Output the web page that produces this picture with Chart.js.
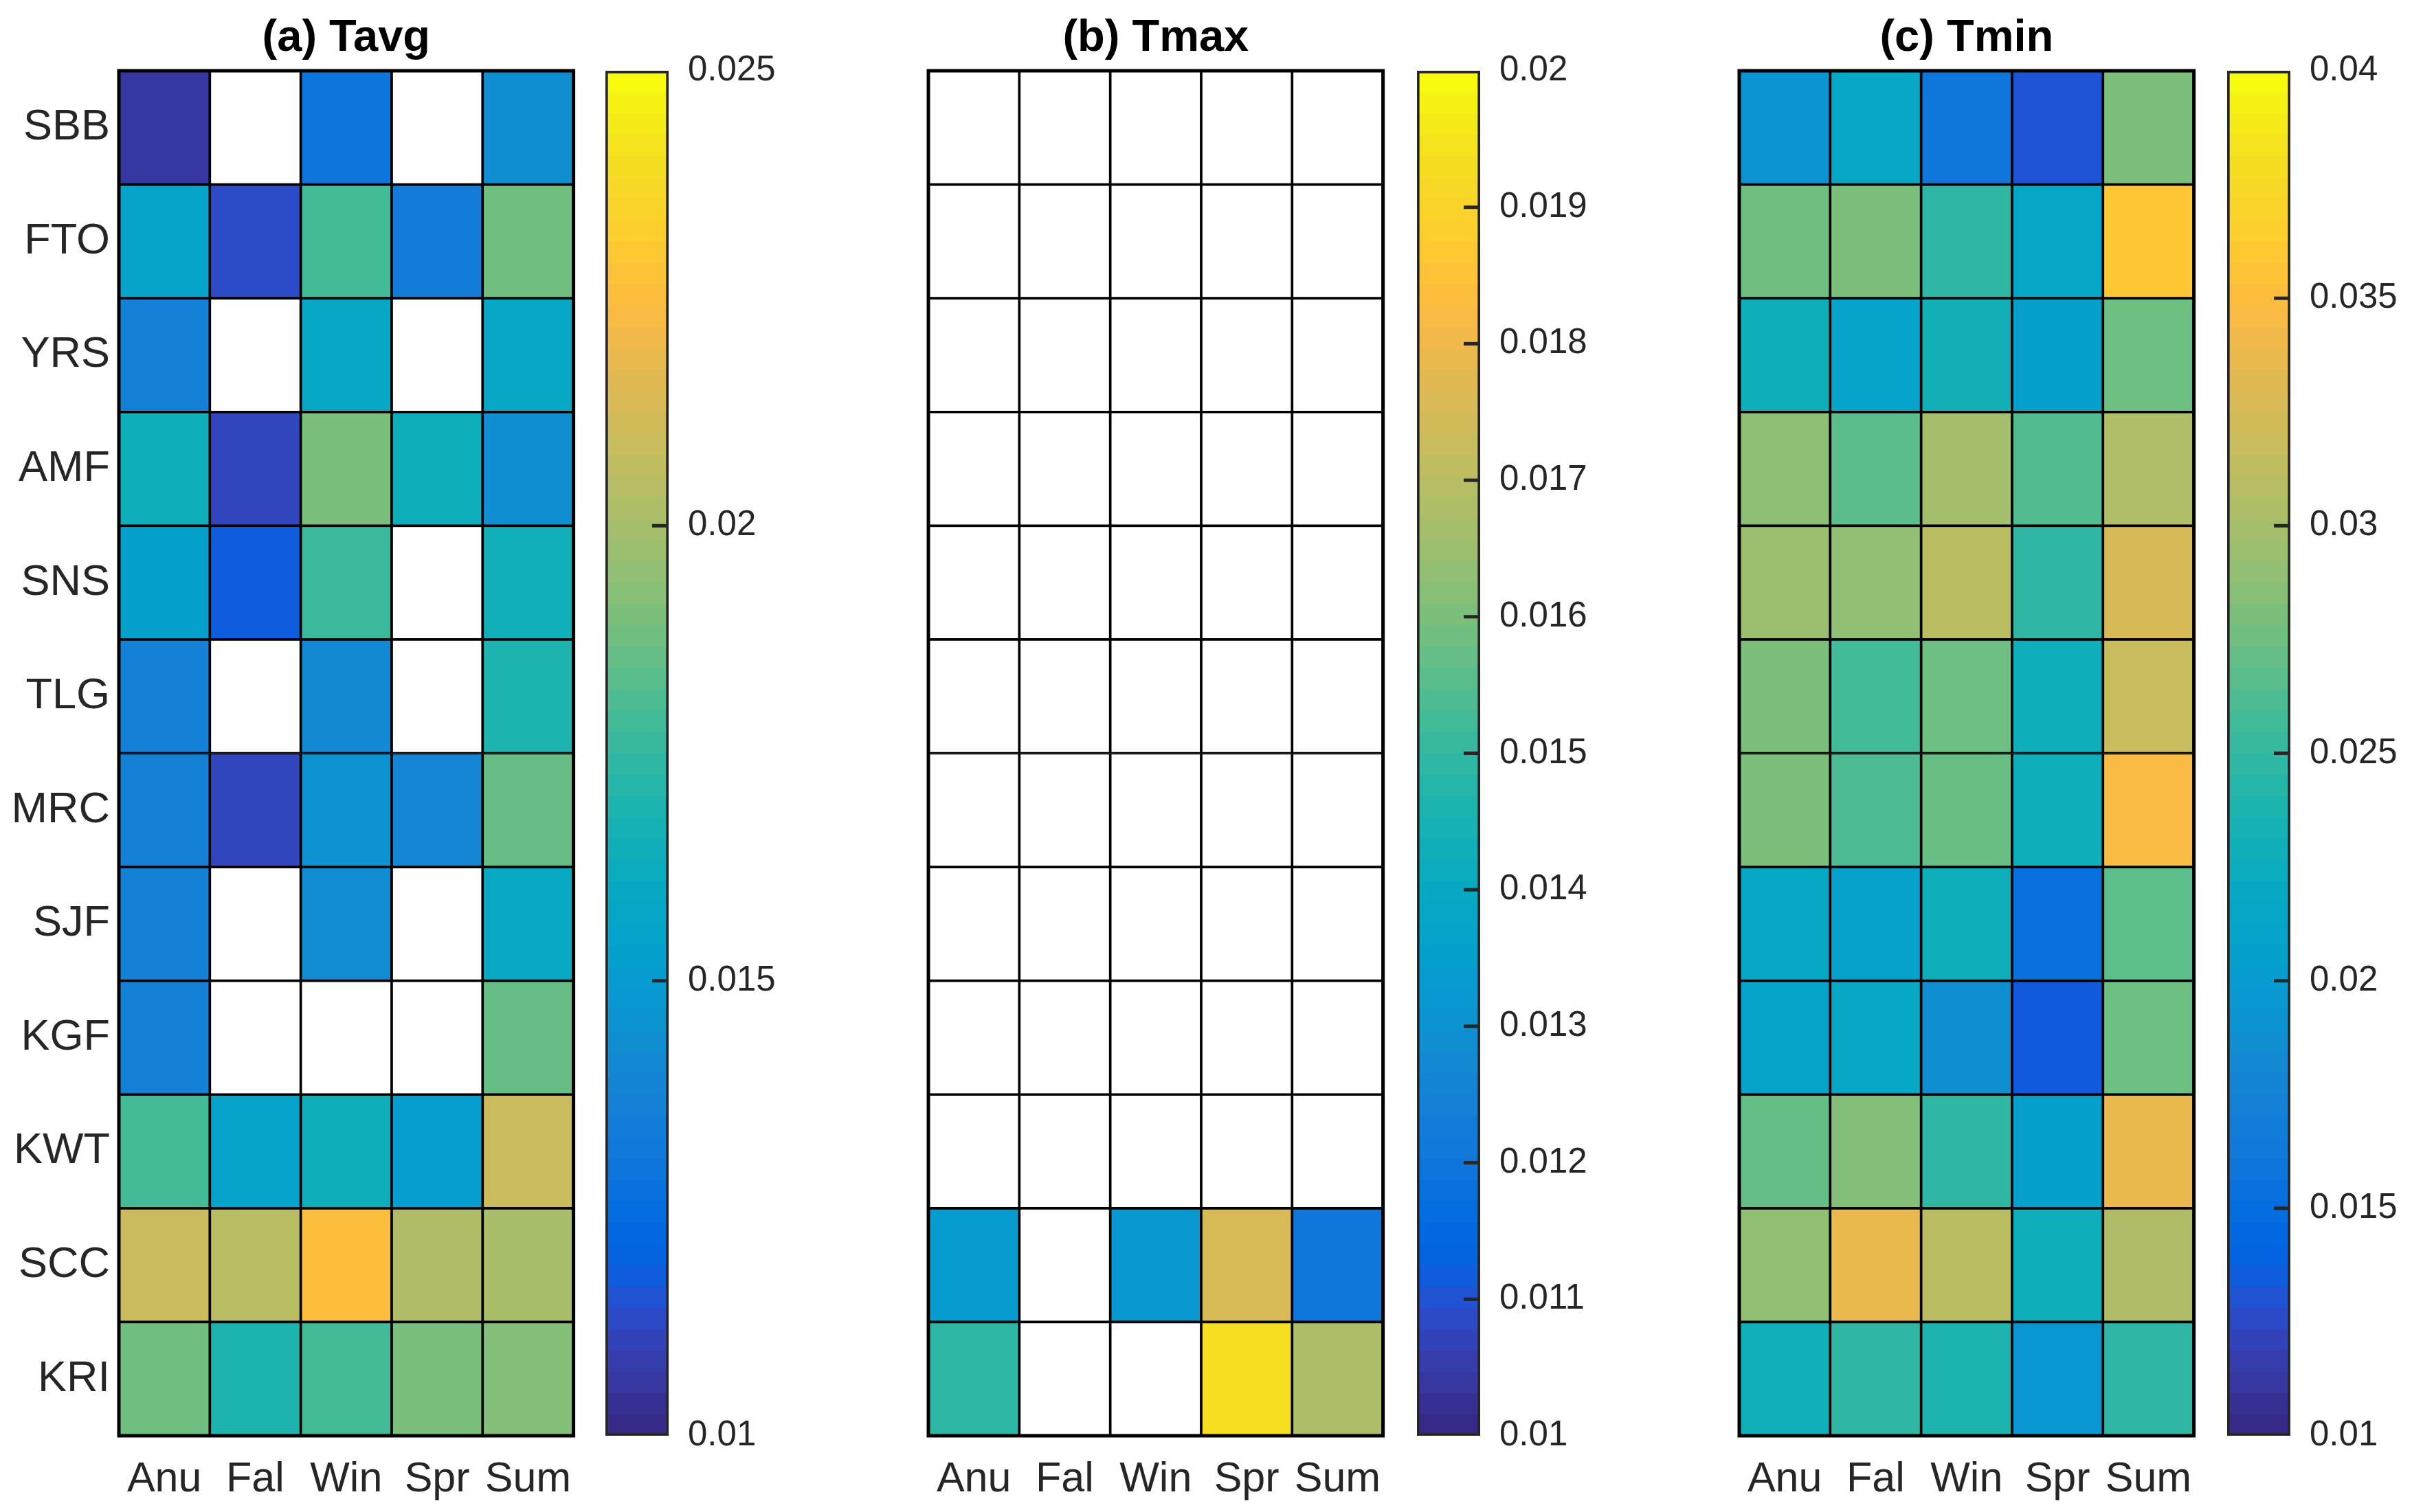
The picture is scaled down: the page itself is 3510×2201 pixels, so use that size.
<!DOCTYPE html>
<html>
<head>
<meta charset="utf-8">
<script src="https://cdn.jsdelivr.net/npm/chart.js@4.4.1/dist/chart.umd.min.js"></script>
<style>
  html, body { margin: 0; padding: 0; background: #fff; }
  #wrap { position: relative; width: 3510px; height: 2201px; overflow: hidden; background: #fff; }
  #wrap canvas { position: absolute; top: 0; }
</style>
</head>
<body>
<div id="wrap"></div>
<script>
const stations = ['SBB', 'FTO', 'YRS', 'AMF', 'SNS', 'TLG', 'MRC', 'SJF', 'KGF', 'KWT', 'SCC', 'KRI'];
const seasons = ['Anu', 'Fal', 'Win', 'Spr', 'Sum'];

// (a) Tavg, one array per season column, rows follow stations
const tavgAnu = [0.0105, 0.0154, 0.0136, 0.0164, 0.0152, 0.0136, 0.0136, 0.0136, 0.0136, 0.0179, 0.0210, 0.0188];
const tavgFal = [null, 0.0112, null, 0.0110, 0.0117, null, 0.0110, null, null, 0.0154, 0.0205, 0.0169];
const tavgWin = [0.0129, 0.0179, 0.0158, 0.0190, 0.0177, 0.0140, 0.0145, 0.0142, null, 0.0164, 0.0226, 0.0179];
const tavgSpr = [null, 0.0133, null, 0.0164, null, null, 0.0139, null, null, 0.0151, 0.0203, 0.0190];
const tavgSum = [0.0143, 0.0188, 0.0158, 0.0143, 0.0165, 0.0169, 0.0186, 0.0159, 0.0186, 0.0210, 0.0201, 0.0192];

// (b) Tmax
const tmaxAnu = [null, null, null, null, null, null, null, null, null, null, 0.0133, 0.0149];
const tmaxFal = [null, null, null, null, null, null, null, null, null, null, null, null];
const tmaxWin = [null, null, null, null, null, null, null, null, null, null, 0.0132, null];
const tmaxSpr = [null, null, null, null, null, null, null, null, null, null, 0.0176, 0.0194];
const tmaxSum = [null, null, null, null, null, null, null, null, null, null, 0.0120, 0.0168];

// (c) Tmin
const tminAnu = [0.0191, 0.0276, 0.0228, 0.0289, 0.0295, 0.0281, 0.0281, 0.0216, 0.0208, 0.0271, 0.0290, 0.0229];
const tminFal = [0.0216, 0.0281, 0.0208, 0.0267, 0.0290, 0.0257, 0.0262, 0.0207, 0.0216, 0.0284, 0.0338, 0.0248];
const tminWin = [0.0160, 0.0248, 0.0231, 0.0300, 0.0311, 0.0275, 0.0273, 0.0228, 0.0186, 0.0248, 0.0311, 0.0238];
const tminSpr = [0.0129, 0.0214, 0.0205, 0.0263, 0.0248, 0.0228, 0.0228, 0.0152, 0.0133, 0.0204, 0.0228, 0.0194];
const tminSum = [0.0281, 0.0361, 0.0275, 0.0305, 0.0327, 0.0319, 0.0348, 0.0268, 0.0275, 0.0338, 0.0306, 0.0248];

// colour limits and colorbar ticks
const tavgRange = [0.01, 0.025];
const tmaxRange = [0.01, 0.02];
const tminRange = [0.01, 0.04];
const tavgTicks = [0.01, 0.015, 0.02, 0.025];
const tavgTickLabels = ['0.01', '0.015', '0.02', '0.025'];
const tmaxTicks = [0.01, 0.011, 0.012, 0.013, 0.014, 0.015, 0.016, 0.017, 0.018, 0.019, 0.02];
const tmaxTickLabels = ['0.01', '0.011', '0.012', '0.013', '0.014', '0.015', '0.016', '0.017', '0.018', '0.019', '0.02'];
const tminTicks = [0.01, 0.015, 0.02, 0.025, 0.03, 0.035, 0.04];
const tminTickLabels = ['0.01', '0.015', '0.02', '0.025', '0.03', '0.035', '0.04'];

// MATLAB parula, 64 entries
const PARULA = [
  [0.2081,0.1663,0.5292],[0.2116,0.1898,0.5777],[0.2123,0.2138,0.6270],[0.2081,0.2386,0.6771],
  [0.1959,0.2645,0.7279],[0.1707,0.2919,0.7792],[0.1253,0.3242,0.8303],[0.0591,0.3598,0.8683],
  [0.0117,0.3875,0.8820],[0.0060,0.4086,0.8828],[0.0165,0.4266,0.8786],[0.0329,0.4430,0.8720],
  [0.0498,0.4586,0.8641],[0.0629,0.4737,0.8554],[0.0723,0.4887,0.8467],[0.0779,0.5040,0.8384],
  [0.0793,0.5200,0.8312],[0.0749,0.5375,0.8263],[0.0641,0.5570,0.8240],[0.0488,0.5772,0.8228],
  [0.0343,0.5966,0.8199],[0.0265,0.6137,0.8135],[0.0239,0.6287,0.8038],[0.0231,0.6418,0.7913],
  [0.0228,0.6535,0.7768],[0.0267,0.6642,0.7607],[0.0384,0.6743,0.7436],[0.0590,0.6838,0.7254],
  [0.0843,0.6928,0.7062],[0.1133,0.7015,0.6859],[0.1453,0.7098,0.6646],[0.1801,0.7177,0.6424],
  [0.2178,0.7250,0.6193],[0.2586,0.7317,0.5954],[0.3022,0.7376,0.5712],[0.3482,0.7424,0.5473],
  [0.3953,0.7459,0.5244],[0.4420,0.7481,0.5033],[0.4871,0.7491,0.4840],[0.5300,0.7491,0.4661],
  [0.5709,0.7485,0.4494],[0.6099,0.7473,0.4337],[0.6473,0.7456,0.4188],[0.6834,0.7435,0.4044],
  [0.7184,0.7411,0.3905],[0.7525,0.7384,0.3768],[0.7858,0.7356,0.3633],[0.8185,0.7327,0.3498],
  [0.8507,0.7299,0.3360],[0.8824,0.7274,0.3217],[0.9139,0.7258,0.3063],[0.9450,0.7261,0.2886],
  [0.9739,0.7314,0.2666],[0.9938,0.7455,0.2403],[0.9990,0.7653,0.2164],[0.9955,0.7861,0.1967],
  [0.9880,0.8066,0.1794],[0.9789,0.8271,0.1633],[0.9697,0.8481,0.1475],[0.9626,0.8705,0.1309],
  [0.9589,0.8949,0.1132],[0.9598,0.9218,0.0948],[0.9661,0.9514,0.0755],[0.9763,0.9831,0.0538]
];

function parula(f) {
  const t = Math.max(0, Math.min(1, f)) * 63;
  const i = Math.min(62, Math.floor(t));
  const w = t - i;
  const a = PARULA[i], b = PARULA[i + 1];
  const c = [0, 1, 2].map(k => Math.round(255 * (a[k] + (b[k] - a[k]) * w)));
  return 'rgb(' + c.join(',') + ')';
}

const FONT = '"Liberation Sans", Arial, Helvetica, sans-serif';
const TXT = '#262626';
const H = 2201;
const TOP = 103;
const BOTTOM = 2090;
const YAXIS_W = 173;
const MAP_W = 670;

const frame = {
  id: 'frame',
  afterDatasetsDraw(chart) {
    const a = chart.chartArea;
    const ctx = chart.ctx;
    ctx.save();
    ctx.strokeStyle = '#000';
    ctx.lineWidth = 5;
    ctx.strokeRect(a.left, a.top, a.right - a.left, a.bottom - a.top);
    ctx.restore();
  },
};

const cbTicks = {
  id: 'cbTicks',
  afterDatasetsDraw(chart) {
    const a = chart.chartArea;
    const y = chart.scales.y;
    const ctx = chart.ctx;
    ctx.save();
    ctx.strokeStyle = TXT;
    ctx.lineWidth = 5;
    y.ticks.forEach(t => {
      if (t.value <= y.min || t.value >= y.max) return;
      const py = y.getPixelForValue(t.value);
      ctx.beginPath();
      ctx.moveTo(a.right - 24, py);
      ctx.lineTo(a.right - 2, py);
      ctx.stroke();
    });
    ctx.restore();
  },
};

function addCanvas(left, width) {
  const c = document.createElement('canvas');
  c.width = width;
  c.height = H;
  c.style.left = left + 'px';
  c.style.width = width + 'px';
  c.style.height = H + 'px';
  document.getElementById('wrap').appendChild(c);
  return c;
}

function heatmap(left, title, columns, range, showRows) {
  const canvas = addCanvas(left - YAXIS_W, YAXIS_W + MAP_W + 10);
  new Chart(canvas, {
    type: 'bar',
    data: {
      labels: stations,
      datasets: seasons.map((s, j) => ({
        label: s,
        data: stations.map(() => [j, j + 1]),
        backgroundColor: columns[j].map(v => v == null ? '#ffffff' : parula((v - range[0]) / (range[1] - range[0]))),
        borderColor: '#000',
        borderWidth: 2.2,
        borderSkipped: false,
        barPercentage: 1,
        categoryPercentage: 1,
        grouped: false,
      })),
    },
    options: {
      indexAxis: 'y',
      responsive: false,
      animation: false,
      devicePixelRatio: 1,
      layout: { padding: { left: 0, right: 10, top: 0, bottom: 0 } },
      plugins: {
        legend: { display: false },
        tooltip: { enabled: false },
        title: {
          display: true,
          text: title,
          fullSize: false,
          color: '#000',
          font: { family: FONT, size: 65, weight: 'bold', lineHeight: 1.2 },
          padding: { top: 17, bottom: 8 },
        },
      },
      scales: {
        x: {
          type: 'linear',
          min: 0,
          max: 5,
          grid: { display: false },
          border: { display: false },
          afterBuildTicks: axis => { axis.ticks = seasons.map((s, j) => ({ value: j + 0.5 })); },
          afterFit: axis => { axis.height = H - BOTTOM; },
          ticks: {
            callback: v => seasons[Math.floor(v)],
            color: TXT,
            font: { family: FONT, size: 61 },
            padding: 20,
            maxRotation: 0,
            autoSkip: false,
          },
        },
        y: {
          grid: { display: false },
          border: { display: false },
          afterFit: axis => { axis.width = YAXIS_W; },
          ticks: {
            display: showRows,
            color: TXT,
            font: { family: FONT, size: 63 },
            padding: 5,
            autoSkip: false,
          },
        },
      },
    },
    plugins: [frame],
  });
}

function colorbar(left, range, ticks, tickLabels) {
  const canvas = addCanvas(left, 92 + 250);
  new Chart(canvas, {
    type: 'bar',
    data: {
      labels: [''],
      datasets: [{
        data: [[range[0], range[1]]],
        backgroundColor: c => {
          const a = c.chart.chartArea;
          if (!a) return '#fff';
          const g = c.chart.ctx.createLinearGradient(0, a.bottom, 0, a.top);
          for (let k = 0; k < 64; k++) {
            const col = parula(k / 63);
            g.addColorStop(k / 64, col);
            g.addColorStop((k + 1) / 64, col);
          }
          return g;
        },
        borderColor: TXT,
        borderWidth: 4,
        borderSkipped: false,
        barPercentage: 1,
        categoryPercentage: 1,
      }],
    },
    options: {
      responsive: false,
      animation: false,
      devicePixelRatio: 1,
      layout: { padding: { left: 0, right: 0, top: TOP, bottom: H - BOTTOM } },
      plugins: { legend: { display: false }, tooltip: { enabled: false } },
      scales: {
        x: { display: false },
        y: {
          position: 'right',
          min: range[0],
          max: range[1],
          grid: { display: false },
          border: { display: false },
          afterBuildTicks: axis => { axis.ticks = ticks.map(v => ({ value: v })); },
          afterFit: axis => { axis.width = 250; },
          ticks: {
            callback: (v, i) => tickLabels[i],
            color: TXT,
            font: { family: FONT, size: 51 },
            padding: 20,
            autoSkip: false,
          },
        },
      },
    },
    plugins: [cbTicks],
  });
}

heatmap(173, '(a) Tavg', [tavgAnu, tavgFal, tavgWin, tavgSpr, tavgSum], tavgRange, true);
colorbar(881, tavgRange, tavgTicks, tavgTickLabels);

heatmap(1351, '(b) Tmax', [tmaxAnu, tmaxFal, tmaxWin, tmaxSpr, tmaxSum], tmaxRange, false);
colorbar(2062, tmaxRange, tmaxTicks, tmaxTickLabels);

heatmap(2531, '(c) Tmin', [tminAnu, tminFal, tminWin, tminSpr, tminSum], tminRange, false);
colorbar(3241, tminRange, tminTicks, tminTickLabels);
</script>
</body>
</html>
